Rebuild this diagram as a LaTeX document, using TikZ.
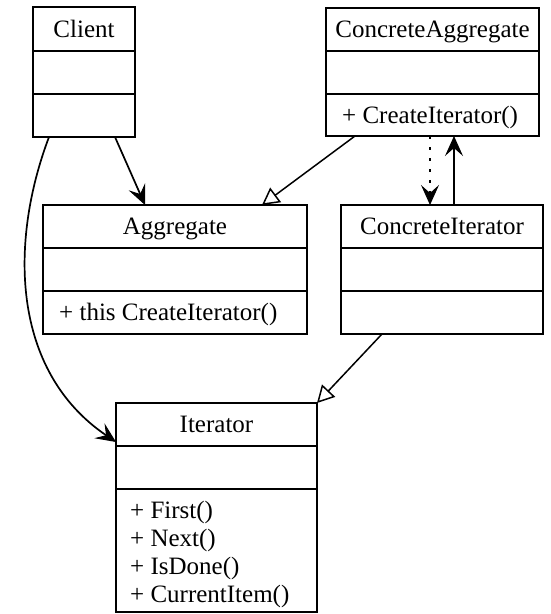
\documentclass[tikz,border=0pt]{standalone}
\usepackage{fontspec}
\setmainfont{Liberation Serif}
\usetikzlibrary{arrows.meta}

\tikzset{
  classbox/.style={draw, line width=1.7pt, inner sep=0pt, outer sep=0pt, anchor=north west},
  divider/.style={line width=1.7pt},
  title/.style={inner sep=0pt, anchor=base},
  member/.style={inner sep=0pt, anchor=base west, align=left},
  headtip/.style={-{Stealth[length=20pt, width=18pt, inset=8pt, line width=1pt]}},
  assoc/.style={line width=1.7pt, headtip},
  inherit/.style={line width=1.5pt, -{Triangle[open, length=17pt, width=18pt, fill=white]}},
  depend/.style={line width=1.7pt, dash pattern=on 3pt off 8pt, headtip},
}

\begin{document}
\begin{tikzpicture}[x=1pt, y=-1pt, font=\fontsize{25}{28}\selectfont]
\useasboundingbox (0,0) rectangle (550,614);

% Client
\node[classbox, minimum width=102pt, minimum height=130pt] (client) at (33,7) {};
\draw[divider] (33,51) -- (135,51);
\draw[divider] (33,94) -- (135,94);
\node[title] (clientname) at (84,37) {Client};

% ConcreteAggregate
\node[classbox, minimum width=213pt, minimum height=128pt] (cagg) at (326,8) {};
\draw[divider] (326,51) -- (539,51);
\draw[divider] (326,94) -- (539,94);
\node[title] (caggname) at (432.5,37) {ConcreteAggregate};
\node[member] (caggop) at (342,123) {+ CreateIterator()};

% Aggregate
\node[classbox, minimum width=264pt, minimum height=129pt] (agg) at (43,205) {};
\draw[divider] (43,248) -- (307,248);
\draw[divider] (43,291) -- (307,291);
\node[title] (aggname) at (175,234) {Aggregate};
\node[member] (aggop) at (59,320) {+ this CreateIterator()};

% ConcreteIterator
\node[classbox, minimum width=202pt, minimum height=129pt] (citer) at (341,205) {};
\draw[divider] (341,248) -- (543,248);
\draw[divider] (341,291) -- (543,291);
\node[title] (citername) at (442,234) {ConcreteIterator};

% Iterator
\node[classbox, minimum width=201pt, minimum height=209pt] (iter) at (116,403) {};
\draw[divider] (116,446) -- (317,446);
\draw[divider] (116,489) -- (317,489);
\node[title] (itername) at (216.5,432) {Iterator};
\node[member] (iterops) at (130,518) {+ First()};
\node[member] (iterop2) at (130,546) {+ Next()};
\node[member] (iterop3) at (130,574) {+ IsDone()};
\node[member] (iterop4) at (130,602) {+ CurrentItem()};

% Connectors
\draw[assoc] ([xshift=-20pt]client.south east) -- ([xshift=102pt]agg.north west);
\draw[assoc] ([xshift=16pt]client.south west)
  .. controls (10,240) and (10,370) .. ([yshift=-39pt]iter.north west);
\draw[inherit] ([xshift=29pt]cagg.south west) -- ([xshift=219pt]agg.north west);
\draw[depend] ([xshift=104pt]cagg.south west) -- ([xshift=89pt]citer.north west);
\draw[assoc] ([xshift=113pt]citer.north west) -- ([xshift=128pt]cagg.south west);
\draw[inherit] ([xshift=41pt]citer.south west) -- (iter.north east);
\end{tikzpicture}
\end{document}
